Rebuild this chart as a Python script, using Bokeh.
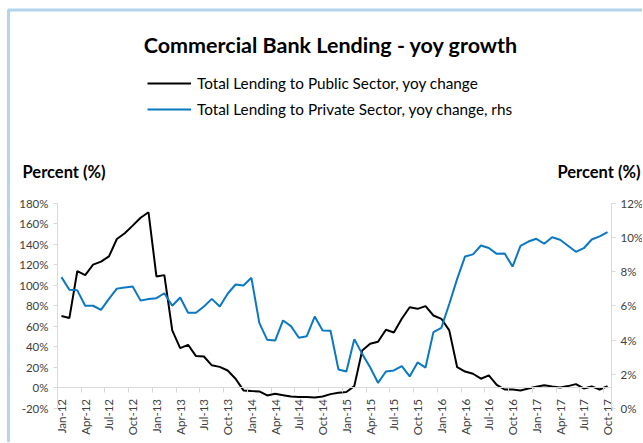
import math
import numpy as np
from bokeh.plotting import figure
from bokeh.models import (Range1d, LinearAxis, FixedTicker, PrintfTickFormatter,
                          Label, Legend, LegendItem, ColumnDataSource, BoxAnnotation)
from bokeh.embed import file_html
from bokeh.resources import INLINE

# ---------------- data ----------------
title_text = "Commercial Bank Lending - yoy growth"
public_label = "Total Lending to Public Sector, yoy change"
private_label = "Total Lending to Private Sector, yoy change, rhs"
axis_title = "Percent (%)"

# Monthly, Jan-12 .. Oct-17
public_yoy = [70, 68, 113.6, 109.8, 120, 123, 128, 145, 150.6, 158, 165.6, 171,
              108.5, 109.8, 56, 38.7, 42, 31, 30.6, 22, 20.5, 17, 9, -2.4,
              -3, -3.4, -7.3, -5.7, -7, -8.3, -8.9, -8.9, -9.2, -8.3, -6, -4.7,
              -4, 1.8, 36.5, 43, 45, 56.6, 54, 67.3, 78.6, 77, 79.6, 70.5,
              67.3, 56, 20.2, 16, 13.8, 9, 12.2, 3, -1.5, -1.5, -2.4, -0.5,
              1.1, 2.7, 1.5, 0.5, 1.8, 3.7, -0.5, 1.5, -1.5, 1.8]
private_yoy = [7.67, 6.93, 6.9, 6.0, 6.0, 5.76, 6.4, 7.0, 7.07, 7.13, 6.3, 6.4,
               6.44, 6.73, 6.0, 6.48, 5.59, 5.59, 5.96, 6.4, 5.96, 6.7, 7.24, 7.18,
               7.63, 5.0, 4.01, 3.97, 5.14, 4.81, 4.13, 4.22, 5.37, 4.56, 4.54, 2.28,
               2.16, 4.05, 3.19, 2.41, 1.5, 2.16, 2.22, 2.47, 1.87, 2.69, 2.39, 4.46,
               4.71, 6.1, 7.57, 8.88, 9.0, 9.52, 9.37, 9.03, 9.05, 8.29, 9.5, 9.75,
               9.91, 9.62, 10.0, 9.85, 9.5, 9.15, 9.36, 9.87, 10.05, 10.3]
x_tick_labels = ["Jan-12", "Apr-12", "Jul-12", "Oct-12",
                 "Jan-13", "Apr-13", "Jul-13", "Oct-13",
                 "Jan-14", "Apr-14", "Jul-14", "Oct-14",
                 "Jan-15", "Apr-15", "Jul-15", "Oct-15",
                 "Jan-16", "Apr-16", "Jul-16", "Oct-16",
                 "Jan-17", "Apr-17", "Jul-17", "Oct-17"]
left_ticks = [-20, 0, 20, 40, 60, 80, 100, 120, 140, 160, 180]
right_ticks = [0, 2, 4, 6, 8, 10, 12]

# ---------------- layout (canvas pixels, canvas at page 0,0) ----------------
FONT = "Lato"
W, H = 642, 442
AX_L, AX_R = 57, 611          # left / right axis lines
AX_T, AX_B = 202.5, 408       # top (180% / 12%) and bottom (-20% / 0%)
n = len(public_yoy)
x = np.arange(n)
step = 3

# ranges chosen so that the frame covers the whole canvas
x0, x1 = -0.5, n - 0.5
xpx = (AX_R - AX_L) / (x1 - x0)
lo, hi = left_ticks[0], left_ticks[-1]
ypx = (AX_B - AX_T) / (hi - lo)
rlo, rhi = right_ticks[0], right_ticks[-1]
rpx = (AX_B - AX_T) / (rhi - rlo)

p = figure(width=W, height=H, output_backend="svg", toolbar_location=None,
           x_range=Range1d(x0 - AX_L / xpx, x1 + (W - AX_R) / xpx),
           y_range=Range1d(lo - (H - AX_B) / ypx, hi + AX_T / ypx),
           x_axis_location=None, y_axis_location=None,
           min_border_left=0, min_border_right=0, min_border_top=0, min_border_bottom=0)
p.extra_y_ranges = {"rhs": Range1d(rlo - (H - AX_B) / rpx, rhi + AX_T / rpx)}
p.grid.visible = False
p.outline_line_color = None
p.background_fill_color = "white"
p.border_fill_color = "white"

# blue frame of the chart box (top and left edges visible)
p.add_layout(BoxAnnotation(left=8, right=W + 20, top=H - 9.5, bottom=-20,
                           left_units="screen", right_units="screen",
                           top_units="screen", bottom_units="screen",
                           fill_color=None, line_color="#0070C0", line_width=3,
                           level="underlay"))


def style_axis(ax):
    ax.axis_line_color = "#d9d9d9"
    ax.major_tick_line_color = "#d9d9d9"
    ax.minor_tick_line_color = None
    ax.major_tick_out = 4
    ax.major_tick_in = 0
    ax.major_label_text_font = FONT
    ax.major_label_text_font_size = "11.5px"
    ax.major_label_text_color = "#404040"
    ax.major_label_standoff = 5


yl = LinearAxis(fixed_location=x0, bounds=(lo, hi), ticker=FixedTicker(ticks=left_ticks),
                formatter=PrintfTickFormatter(format="%d%%"))
style_axis(yl)
p.add_layout(yl, "left")

yr = LinearAxis(y_range_name="rhs", fixed_location=x1, bounds=(rlo, rhi),
                ticker=FixedTicker(ticks=right_ticks),
                formatter=PrintfTickFormatter(format="%d%%"))
style_axis(yr)
p.add_layout(yr, "right")

# x axis: tick marks at category boundaries
xt = LinearAxis(fixed_location=0, bounds=(x0, x1),
                ticker=FixedTicker(ticks=[i - 0.5 for i in range(0, n, step)]))
style_axis(xt)
xt.major_tick_out = 5
xt.major_label_text_color = None
p.add_layout(xt, "below")

# x axis: labels at category centres
label_pos = list(range(0, n, step))
xl = LinearAxis(fixed_location=0, bounds=(x0, x1), ticker=FixedTicker(ticks=label_pos),
                major_label_overrides={pos: lab for pos, lab in zip(label_pos, x_tick_labels)})
style_axis(xl)
xl.axis_line_color = None
xl.major_tick_line_color = None
xl.major_label_orientation = math.pi / 2
xl.major_label_standoff = 7
p.add_layout(xl, "below")

src = ColumnDataSource(dict(x=x, public=public_yoy, private=private_yoy))
r1 = p.line("x", "public", source=src, line_color="black", line_width=2)
r2 = p.line("x", "private", source=src, y_range_name="rhs",
            line_color="#0A78C2", line_width=2)

legend = Legend(items=[LegendItem(label=public_label, renderers=[r1]),
                       LegendItem(label=private_label, renderers=[r2])],
                location=(147, H - 119), orientation="vertical", padding=0, margin=0,
                spacing=6, glyph_width=44, glyph_height=20, label_height=20,
                label_standoff=6, label_text_font=FONT, label_text_font_size="15.3px",
                label_text_color="black", border_line_color=None,
                background_fill_alpha=0)
p.add_layout(legend)

p.add_layout(Label(x=330.5, y=H - 44, x_units="screen", y_units="screen",
                   text=title_text, text_align="center", text_baseline="alphabetic",
                   text_font=FONT, text_font_style="bold", text_font_size="21.5px",
                   text_color="black"))
p.add_layout(Label(x=22, y=H - 171, x_units="screen", y_units="screen",
                   text=axis_title, text_align="left", text_baseline="alphabetic",
                   text_font=FONT, text_font_style="bold", text_font_size="16.5px",
                   text_color="black"))
p.add_layout(Label(x=640, y=H - 171, x_units="screen", y_units="screen",
                   text=axis_title, text_align="right", text_baseline="alphabetic",
                   text_font=FONT, text_font_style="bold", text_font_size="16.5px",
                   text_color="black"))

open("out.html", "w").write(file_html(p, INLINE))
